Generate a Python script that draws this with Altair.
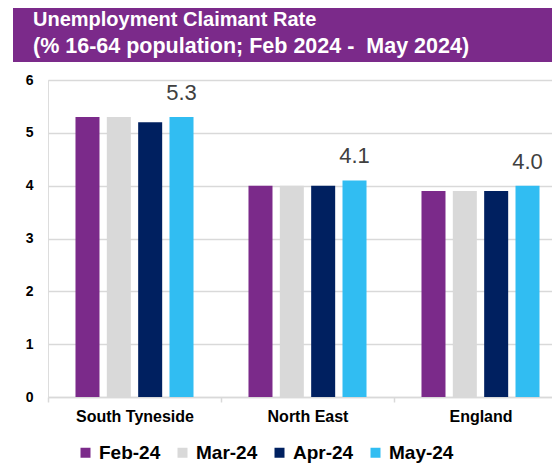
import altair as alt
import pandas as pd

regions = ["South Tyneside", "North East", "England"]
months = ["Feb-24", "Mar-24", "Apr-24", "May-24"]
south_tyneside = [5.3, 5.3, 5.2, 5.3]
north_east = [4.0, 4.0, 4.0, 4.1]
england = [3.9, 3.9, 3.9, 4.0]
colors = ["#7B2A8A", "#D9D9D9", "#002060", "#31BDF2"]
title_lines = ["Unemployment Claimant Rate", "(% 16-64 population; Feb 2024 -\u00a0 May 2024)"]
y_ticks = [0, 1, 2, 3, 4, 5, 6]

rows = []
for region, vals in zip(regions, [south_tyneside, north_east, england]):
    for m, v in zip(months, vals):
        rows.append({"region": region, "month": m, "value": v})
df = pd.DataFrame(rows)

W, H = 504, 317
FONT = "Liberation Sans"
GRID = "#D9D9D9"

x = alt.X(
    "region:N", sort=regions,
    scale=alt.Scale(range=[0, 519], paddingInner=0, paddingOuter=0),
    axis=alt.Axis(title=None, labelAngle=0, tickBand="extent", ticks=True, tickSize=5,
                  tickColor=GRID, tickWidth=1.5, domainColor=GRID, domainWidth=1.5,
                  labelFontSize=16, labelFontWeight="bold", labelColor="#000000",
                  labelPadding=6, grid=False, labelFont=FONT),
)
xo = alt.XOffset("month:N", sort=months, scale=alt.Scale(paddingInner=0.234, paddingOuter=0.877))
y = alt.Y(
    "value:Q",
    scale=alt.Scale(domain=[0, 6], nice=False),
    axis=alt.Axis(title=None, values=y_ticks, format="d", domain=False, ticks=False, tickSize=0,
                  labelPadding=15, labelFontSize=14, labelFontWeight="bold", labelColor="#000000",
                  labelFont=FONT, grid=True, gridColor=GRID, gridWidth=1.5),
)
color = alt.Color(
    "month:N", sort=months,
    scale=alt.Scale(domain=months, range=colors),
    legend=alt.Legend(title=None, orient="none", legendX=28, legendY=363, direction="horizontal",
                      columns=4, symbolType="square", symbolSize=100, symbolStrokeWidth=0,
                      labelFontSize=19, labelFontWeight="bold", labelFont=FONT, labelColor="#000000",
                      labelOffset=4, columnPadding=12, padding=0),
)

bars = alt.Chart(df).mark_bar().encode(x=x, xOffset=xo, y=y, color=color)

labels = alt.Chart(df).transform_filter(alt.datum.month == "May-24").mark_text(
    baseline="alphabetic", align="center", dy=-17, fontSize=22, font=FONT, color="#404040"
).encode(x=x, xOffset=xo, y=y, text=alt.Text("value:Q", format=".1f"))

one = pd.DataFrame({"a": [0]})
banner = alt.Chart(one).mark_rect(color="#7B2A8A").encode(
    x=alt.value(-35), x2=alt.value(W + 10), y=alt.value(-72), y2=alt.value(-18)
)
t1 = alt.Chart(one).mark_text(align="left", baseline="alphabetic", fontSize=20, fontWeight="bold",
                              font=FONT, color="white").encode(
    x=alt.value(-15), y=alt.value(-54), text=alt.value(title_lines[0]))
t2 = alt.Chart(one).mark_text(align="left", baseline="alphabetic", fontSize=21.5, fontWeight="bold",
                              font=FONT, color="white").encode(
    x=alt.value(-15), y=alt.value(-27), text=alt.value(title_lines[1]))

chart = alt.layer(banner, t1, t2, bars, labels).properties(
    width=W, height=H,
    autosize=alt.AutoSizeParams(type="none"),
    padding={"left": 40, "top": 72, "right": 0, "bottom": 70},
).configure_view(stroke=None).configure(background="white")

chart.save("out.html", embed_options={"renderer": "svg", "actions": False})
